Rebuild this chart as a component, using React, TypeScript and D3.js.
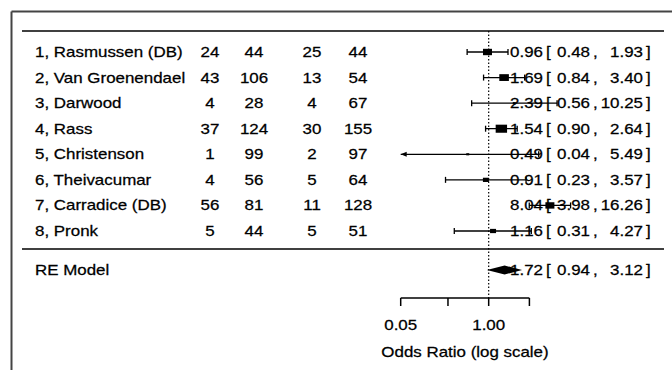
import React from 'react';
import * as d3 from 'd3';

const studies = [
  '1, Rasmussen (DB)',
  '2, Van Groenendael',
  '3, Darwood',
  '4, Rass',
  '5, Christenson',
  '6, Theivacumar',
  '7, Carradice (DB)',
  '8, Pronk',
];
const col1 = [24, 43, 4, 37, 1, 4, 56, 5];
const col2 = [44, 106, 28, 124, 99, 56, 81, 44];
const col3 = [25, 13, 4, 30, 2, 5, 11, 5];
const col4 = [44, 54, 67, 155, 97, 64, 128, 51];
const estimate = [0.96, 1.69, 2.39, 1.54, 0.49, 0.91, 8.04, 1.16];
const lower = [0.48, 0.84, 0.56, 0.9, 0.04, 0.23, 3.98, 0.31];
const upper = [1.93, 3.4, 10.25, 2.64, 5.49, 3.57, 16.26, 4.27];
const weights = [7.5, 8, 2.5, 9.5, 2.5, 5, 7.5, 5];
const reLabel = 'RE Model';
const reEstimate = 1.72;
const reLower = 0.94;
const reUpper = 3.12;
const tickValues = [0.05, 0.25, 1, 4];
const tickLabels = ['0.05', '', '1.00', ''];
const xTitle = 'Odds Ratio (log scale)';

const W = 672;
const H = 370;
const FONT = "'Liberation Sans', Arial, Helvetica, sans-serif";
const SX = 1.21;
const FS = 14;

function T({ x, y, anchor = 'start', children }: any) {
  return (
    <text
      transform={`translate(${x},${y}) scale(${SX},1)`}
      textAnchor={anchor}
      fontFamily={FONT}
      fontSize={FS}
      fill="#000"
      stroke="#000"
      strokeWidth={0.25}
    >
      {children}
    </text>
  );
}

export default function App() {
  const x = d3.scaleLog().domain([0.05, 4]).range([400.7, 529.4]);
  const y = d3.scaleLinear().domain([0, 7]).range([52, 231]);
  const yRE = 270;
  const yTop = 31;
  const ySep = 249;
  const yAxis = 298;
  const xRef = x(1);
  const alimLo = 0.05;
  const fmt = (v: number) => v.toFixed(2);
  const dy = 5;

  const annot = (cy: number, e: number, lo: number, hi: number, key: string) => (
    <g key={key}>
      <T x={543} y={cy + dy} anchor="end">{fmt(e)}</T>
      <T x={546} y={cy + dy}>[</T>
      <T x={590} y={cy + dy} anchor="end">{fmt(lo)}</T>
      <T x={593} y={cy + dy}>,</T>
      <T x={643} y={cy + dy} anchor="end">{fmt(hi)}</T>
      <T x={646} y={cy + dy}>]</T>
    </g>
  );

  return (
    <svg
      width={W}
      height={H}
      style={{ position: 'absolute', left: 0, top: 0, background: '#fff' }}
    >
      <rect x={0} y={0} width={W} height={H} fill="#fff" />
      {/* frame */}
      <line x1={11.5} y1={11.5} x2={W} y2={11.5} stroke="#444" strokeWidth={2} />
      <line x1={11.5} y1={11.5} x2={11.5} y2={H} stroke="#444" strokeWidth={2} />
      {/* horizontal rules */}
      <line x1={22} y1={yTop} x2={664} y2={yTop} stroke="#000" strokeWidth={1.5} />
      <line x1={22} y1={ySep} x2={664} y2={ySep} stroke="#000" strokeWidth={1.5} />
      {/* reference line */}
      <line x1={xRef} y1={yTop} x2={xRef} y2={yAxis} stroke="#000" strokeWidth={1.2} strokeDasharray="1.5,2" />

      {studies.map((s, i) => {
        const cy = y(i);
        const lo = Math.max(lower[i], alimLo);
        const x1 = x(lo);
        const x2 = x(upper[i]);
        const w = weights[i];
        return (
          <g key={s}>
            <T x={35} y={cy + dy}>{s}</T>
            <T x={210} y={cy + dy} anchor="middle">{col1[i]}</T>
            <T x={254} y={cy + dy} anchor="middle">{col2[i]}</T>
            <T x={312} y={cy + dy} anchor="middle">{col3[i]}</T>
            <T x={358} y={cy + dy} anchor="middle">{col4[i]}</T>
            <line x1={x1} y1={cy} x2={x2} y2={cy} stroke="#000" strokeWidth={1.3} />
            {lower[i] < alimLo ? (
              <polygon
                points={`${x1},${cy} ${x1 + 6},${cy - 2.5} ${x1 + 6},${cy + 2.5}`}
                fill="#000"
              />
            ) : (
              <line x1={x1} y1={cy - 3} x2={x1} y2={cy + 3} stroke="#000" strokeWidth={1.3} />
            )}
            <line x1={x2} y1={cy - 3} x2={x2} y2={cy + 3} stroke="#000" strokeWidth={1.3} />
            <rect
              x={x(estimate[i]) - (w * 1.2) / 2}
              y={cy - (w * 0.85) / 2}
              width={w * 1.2}
              height={w * 0.85}
              fill="#000"
            />
            {annot(cy, estimate[i], lower[i], upper[i], 'a' + i)}
          </g>
        );
      })}

      {/* RE model */}
      <T x={35} y={yRE + dy}>{reLabel}</T>
      <polygon
        points={`${x(reLower)},${yRE} ${x(reEstimate)},${yRE - 4.5} ${x(reUpper)},${yRE} ${x(reEstimate)},${yRE + 4.5}`}
        fill="#000"
      />
      {annot(yRE, reEstimate, reLower, reUpper, 're')}

      {/* axis */}
      <line x1={x(tickValues[0])} y1={yAxis} x2={x(tickValues[tickValues.length - 1])} y2={yAxis} stroke="#000" strokeWidth={1.5} />
      {tickValues.map((t, i) => (
        <g key={t}>
          <line x1={x(t)} y1={yAxis} x2={x(t)} y2={yAxis + 8} stroke="#000" strokeWidth={1.5} />
          {tickLabels[i] && <T x={x(t)} y={yAxis + 32} anchor="middle">{tickLabels[i]}</T>}
        </g>
      ))}
      <T x={465} y={357} anchor="middle">{xTitle}</T>
    </svg>
  );
}
